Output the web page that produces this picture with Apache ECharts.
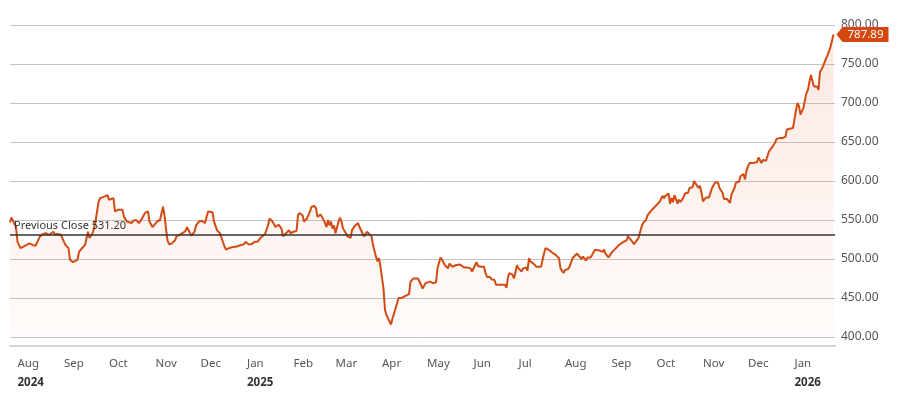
<!DOCTYPE html>
<html>
<head>
<meta charset="utf-8">
<title>Price chart</title>
<script src="https://cdn.jsdelivr.net/npm/echarts@6/dist/echarts.min.js"></script>
<style>
  html, body { margin: 0; padding: 0; background: #fff; }
  #chart { width: 900px; height: 397px; }
</style>
</head>
<body>
<div id="chart"></div>
<script>
// closing prices
let dates = [
  "2024-07-27", "2024-07-28", "2024-07-29", "2024-07-31",
  "2024-08-01", "2024-08-03", "2024-08-05", "2024-08-07", "2024-08-09", "2024-08-10", "2024-08-11", "2024-08-13", "2024-08-14", "2024-08-16", "2024-08-18", "2024-08-19", "2024-08-20", "2024-08-22", "2024-08-23", "2024-08-25", "2024-08-26", "2024-08-28", "2024-08-30",
  "2024-09-01", "2024-09-02", "2024-09-04", "2024-09-05", "2024-09-07", "2024-09-08", "2024-09-10", "2024-09-11", "2024-09-13", "2024-09-15", "2024-09-16", "2024-09-17", "2024-09-18", "2024-09-20", "2024-09-21", "2024-09-22", "2024-09-24", "2024-09-25", "2024-09-26", "2024-09-28", "2024-09-29", "2024-09-30",
  "2024-10-01", "2024-10-02", "2024-10-04", "2024-10-05", "2024-10-07", "2024-10-08", "2024-10-10", "2024-10-11", "2024-10-13", "2024-10-16", "2024-10-17", "2024-10-19", "2024-10-21", "2024-10-23", "2024-10-25", "2024-10-27", "2024-10-28", "2024-10-30", "2024-10-31",
  "2024-11-02", "2024-11-04", "2024-11-05", "2024-11-06", "2024-11-07", "2024-11-08", "2024-11-09", "2024-11-10", "2024-11-12", "2024-11-14", "2024-11-15", "2024-11-17", "2024-11-19", "2024-11-21", "2024-11-22", "2024-11-24", "2024-11-25", "2024-11-27", "2024-11-28", "2024-11-30",
  "2024-12-02", "2024-12-04", "2024-12-06", "2024-12-07", "2024-12-09", "2024-12-10", "2024-12-12", "2024-12-14", "2024-12-15", "2024-12-17", "2024-12-18", "2024-12-20", "2024-12-22", "2024-12-25", "2024-12-26", "2024-12-28", "2024-12-30", "2024-12-31",
  "2025-01-02", "2025-01-03", "2025-01-04", "2025-01-06", "2025-01-07", "2025-01-08", "2025-01-10", "2025-01-11", "2025-01-13", "2025-01-15", "2025-01-16", "2025-01-18", "2025-01-20", "2025-01-22", "2025-01-23", "2025-01-24", "2025-01-25", "2025-01-27", "2025-01-29", "2025-01-30",
  "2025-02-01", "2025-02-03", "2025-02-04", "2025-02-05", "2025-02-07", "2025-02-08", "2025-02-10", "2025-02-12", "2025-02-13", "2025-02-15", "2025-02-16", "2025-02-17", "2025-02-19", "2025-02-20", "2025-02-22", "2025-02-23", "2025-02-24", "2025-02-25", "2025-02-26", "2025-02-27", "2025-02-28",
  "2025-03-01", "2025-03-03", "2025-03-04", "2025-03-05", "2025-03-06", "2025-03-08", "2025-03-09", "2025-03-11", "2025-03-12", "2025-03-14", "2025-03-16", "2025-03-17", "2025-03-19", "2025-03-20", "2025-03-22", "2025-03-23", "2025-03-25", "2025-03-26", "2025-03-28", "2025-03-29", "2025-03-30", "2025-03-31",
  "2025-04-02", "2025-04-03", "2025-04-04", "2025-04-05", "2025-04-07", "2025-04-08", "2025-04-09", "2025-04-11", "2025-04-12", "2025-04-14", "2025-04-15", "2025-04-17", "2025-04-19", "2025-04-20", "2025-04-22", "2025-04-23", "2025-04-25", "2025-04-26", "2025-04-27", "2025-04-28", "2025-04-30",
  "2025-05-01", "2025-05-03", "2025-05-05", "2025-05-07", "2025-05-08", "2025-05-10", "2025-05-11", "2025-05-13", "2025-05-15", "2025-05-16", "2025-05-18", "2025-05-20", "2025-05-21", "2025-05-23", "2025-05-24", "2025-05-26", "2025-05-28", "2025-05-30", "2025-05-31",
  "2025-06-02", "2025-06-03", "2025-06-04", "2025-06-06", "2025-06-08", "2025-06-09", "2025-06-10", "2025-06-12", "2025-06-13", "2025-06-15", "2025-06-16", "2025-06-18", "2025-06-20", "2025-06-22", "2025-06-23", "2025-06-24", "2025-06-25", "2025-06-27", "2025-06-28", "2025-06-30",
  "2025-07-01", "2025-07-03", "2025-07-04", "2025-07-06", "2025-07-07", "2025-07-08", "2025-07-09", "2025-07-11", "2025-07-13", "2025-07-14", "2025-07-16", "2025-07-18", "2025-07-19", "2025-07-21", "2025-07-23", "2025-07-24", "2025-07-26", "2025-07-28", "2025-07-29", "2025-07-31",
  "2025-08-01", "2025-08-03", "2025-08-04", "2025-08-06", "2025-08-07", "2025-08-09", "2025-08-10", "2025-08-12", "2025-08-13", "2025-08-15", "2025-08-16", "2025-08-18", "2025-08-19", "2025-08-21", "2025-08-22", "2025-08-24", "2025-08-26", "2025-08-27", "2025-08-28", "2025-08-30", "2025-08-31",
  "2025-09-01", "2025-09-03", "2025-09-04", "2025-09-06", "2025-09-07", "2025-09-09", "2025-09-11", "2025-09-12", "2025-09-13", "2025-09-15", "2025-09-16", "2025-09-17", "2025-09-19", "2025-09-20", "2025-09-21", "2025-09-22", "2025-09-24", "2025-09-25", "2025-09-26", "2025-09-27", "2025-09-29", "2025-09-30",
  "2025-10-01", "2025-10-02", "2025-10-03", "2025-10-04", "2025-10-05", "2025-10-06", "2025-10-07", "2025-10-09", "2025-10-10", "2025-10-11", "2025-10-12", "2025-10-13", "2025-10-14", "2025-10-15", "2025-10-16", "2025-10-17", "2025-10-19", "2025-10-20", "2025-10-22", "2025-10-23", "2025-10-25", "2025-10-26", "2025-10-27", "2025-10-29", "2025-10-30", "2025-10-31",
  "2025-11-01", "2025-11-03", "2025-11-04", "2025-11-05", "2025-11-07", "2025-11-09", "2025-11-10", "2025-11-11", "2025-11-12", "2025-11-14", "2025-11-15", "2025-11-16", "2025-11-17", "2025-11-19", "2025-11-20", "2025-11-22", "2025-11-23", "2025-11-25", "2025-11-26", "2025-11-28", "2025-11-29", "2025-11-30",
  "2025-12-01", "2025-12-02", "2025-12-04", "2025-12-05", "2025-12-07", "2025-12-08", "2025-12-10", "2025-12-11", "2025-12-13", "2025-12-14", "2025-12-15", "2025-12-17", "2025-12-19", "2025-12-20", "2025-12-22", "2025-12-24", "2025-12-26", "2025-12-27", "2025-12-29", "2025-12-31",
  "2026-01-01", "2026-01-02", "2026-01-03", "2026-01-04", "2026-01-05", "2026-01-07", "2026-01-08", "2026-01-09", "2026-01-10", "2026-01-11", "2026-01-12", "2026-01-13", "2026-01-14", "2026-01-16", "2026-01-17", "2026-01-18", "2026-01-19", "2026-01-20", "2026-01-22", "2026-01-23", "2026-01-24", "2026-01-25", "2026-01-27"
];
let closes = [
  547, 553, 554, 541,
  522, 514, 516, 518, 520, 522, 518, 517, 521, 529, 532, 530, 533, 531, 532, 535, 531, 532, 531,
  522, 518, 514, 499, 496, 496, 499, 509, 514, 518, 520, 535, 527, 533, 539, 548, 573, 578, 578, 580, 578, 582,
  576, 578, 578, 561, 563, 561, 563, 554, 548, 546, 549, 550, 546, 552, 559, 561, 548, 541, 543,
  548, 550, 552, 567, 556, 539, 524, 519, 520, 524, 529, 531, 533, 536, 541, 533, 530, 535, 543, 548,
  549, 546, 561, 559, 560, 548, 537, 533, 527, 516, 512, 514, 515, 516, 514, 518, 519, 522,
  519, 520, 519, 522, 524, 522, 527, 529, 532, 543, 552, 548, 541, 544, 543, 539, 529, 533, 537, 533,
  535, 536, 556, 559, 556, 548, 552, 561, 567, 568, 565, 554, 557, 554, 546, 541, 550, 543, 548, 539, 543,
  533, 548, 553, 548, 539, 533, 529, 527, 537, 543, 546, 541, 533, 529, 535, 537, 529, 518, 503, 497, 501, 490,
  462, 435, 428, 430, 416, 424, 430, 443, 450, 450, 451, 453, 455, 471, 475, 475, 475, 475, 467, 462, 469,
  467, 471, 469, 470, 488, 502, 499, 492, 488, 494, 490, 492, 490, 493, 495, 489, 489, 488, 484,
  492, 496, 491, 490, 490, 482, 477, 477, 474, 473, 467, 467, 467, 467, 463, 477, 482, 480, 475, 492,
  488, 484, 488, 489, 485, 501, 497, 494, 490, 490, 490, 507, 514, 512, 509, 507, 505, 501, 488, 482,
  486, 487, 490, 501, 502, 507, 505, 500, 503, 498, 502, 502, 505, 512, 511, 511, 509, 512, 507, 502, 505,
  508, 512, 513, 518, 519, 522, 524, 529, 527, 522, 519, 521, 527, 534, 541, 546, 550, 556, 558, 561, 565, 564,
  569, 571, 573, 571, 581, 578, 581, 584, 571, 578, 573, 582, 583, 571, 576, 573, 579, 584, 585, 591, 592, 600, 597, 591, 594, 585,
  574, 579, 581, 579, 591, 598, 600, 598, 591, 585, 577, 579, 577, 572, 583, 591, 598, 599, 606, 609, 602, 613,
  619, 623, 623, 621, 624, 630, 623, 627, 626, 632, 638, 643, 649, 654, 655, 655, 657, 666, 667, 668,
  679, 691, 700, 696, 685, 694, 704, 713, 717, 728, 736, 728, 721, 721, 717, 740, 743, 747, 757, 761, 761, 772, 787.89
];
let previousClose = 531.2;

// x axis: one label per month, year under the first month and each January
let monthTicks = [
  "2024-08-01", "2024-09-01", "2024-10-01", "2024-11-01", "2024-12-01",
  "2025-01-01", "2025-02-01", "2025-03-01", "2025-04-01", "2025-05-01", "2025-06-01",
  "2025-07-01", "2025-08-01", "2025-09-01", "2025-10-01", "2025-11-01", "2025-12-01",
  "2026-01-01"
];
let monthNames = ["Jan", "Feb", "Mar", "Apr", "May", "Jun", "Jul", "Aug", "Sep", "Oct", "Nov", "Dec"];

function toTime(s) {
  let p = s.split("-");
  return new Date(+p[0], +p[1] - 1, +p[2]).getTime();
}

let seriesData = dates.map(function (d, i) {
  return [toTime(d), closes[i]];
});
let lastPoint = seriesData[seriesData.length - 1];
let firstTick = toTime(monthTicks[0]);

let myChart = echarts.init(document.getElementById("chart"));
let textFont = "Noto Sans";

let option = {
  animation: false,
  textStyle: { fontFamily: textFont },
  grid: {
    left: 10,
    right: 65,
    top: 25,
    bottom: 60,
  },
  xAxis: {
    type: "value",
    min: toTime("2024-07-27"),
    max: toTime("2026-01-28"),
    offset: 9,
    axisLine: {
      show: true,
      lineStyle: { color: "#d4d4d4", width: 2 },
    },
    axisTick: { show: false },
    splitLine: { show: false },
    axisLabel: {
      customValues: monthTicks.map(toTime),
      align: "left",
      margin: 8,
      formatter: function (value) {
        let d = new Date(value);
        let text = "{m|" + monthNames[d.getMonth()] + "}";
        if (d.getMonth() === 0 || value === firstTick) {
          text += "\n{y|" + d.getFullYear() + "}";
        }
        return text;
      },
      rich: {
        m: { color: "#555", fontSize: 11.5, lineHeight: 19, fontFamily: textFont },
        y: { color: "#333", fontSize: 11.5, lineHeight: 19, fontWeight: "bold", fontFamily: textFont },
      },
    },
  },
  yAxis: {
    type: "value",
    position: "right",
    min: 400,
    max: 800,
    interval: 50,
    axisLine: { show: false },
    axisTick: { show: false },
    splitLine: {
      lineStyle: { color: "#c4c4c4", width: 1 },
    },
    axisLabel: {
      color: "#555",
      fontSize: 12,
      margin: 6,
      formatter: function (v) {
        return v.toFixed(2);
      },
    },
  },
  series: [
    {
      name: "Close",
      type: "line",
      symbol: "none",
      data: seriesData,
      clip: false,
      lineStyle: { color: "#d24b14", width: 2 },
      areaStyle: {
        color: new echarts.graphic.LinearGradient(0, 0, 0, 1, [
          { offset: 0, color: "rgba(236, 120, 80, 0.24)" },
          { offset: 1, color: "rgba(236, 120, 80, 0.04)" },
        ]),
      },
      markLine: {
        silent: true,
        symbol: ["none", "none"],
        lineStyle: { color: "#333", width: 1.5, type: "solid" },
        label: {
          position: "insideStartTop",
          distance: [4, 3],
          color: "#333",
          fontSize: 11,
          formatter: "Previous Close " + previousClose.toFixed(2),
        },
        data: [{ yAxis: previousClose }],
      },
      markPoint: {
        silent: true,
        symbol: "path://M0,7 L6,0 L52,0 L52,14 L6,14 Z",
        symbolSize: [52, 15],
        symbolKeepAspect: false,
        symbolOffset: [29, 0],
        itemStyle: { color: "#d4470f" },
        label: {
          show: true,
          color: "#fff",
          fontSize: 11.5,
          offset: [3, 0],
          formatter: function () {
            return lastPoint[1].toFixed(2);
          },
        },
        data: [{ coord: lastPoint }],
      },
    },
  ],
};

myChart.setOption(option);
</script>
</body>
</html>
